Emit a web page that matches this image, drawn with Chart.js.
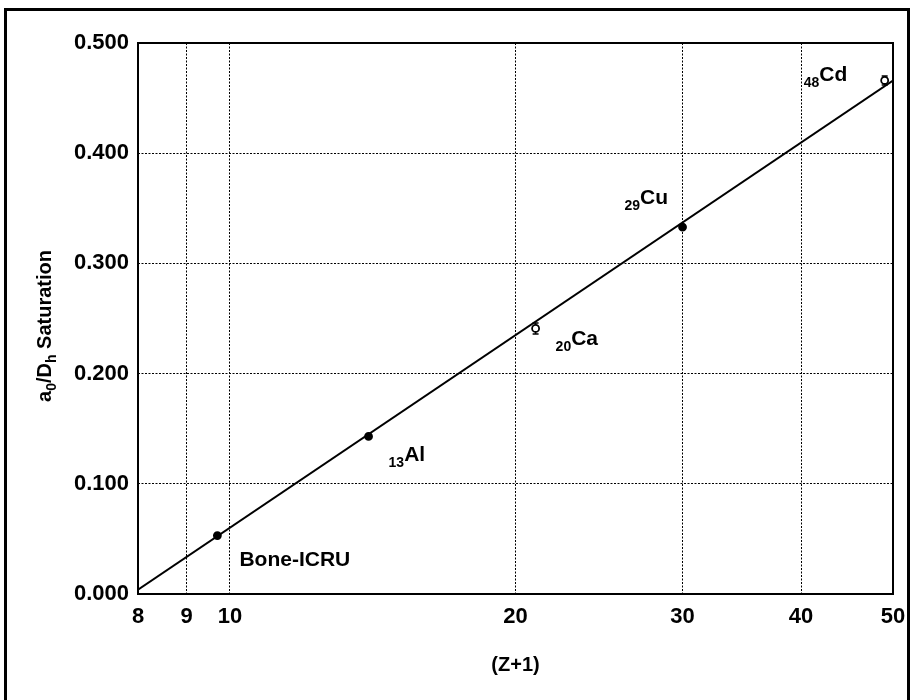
<!DOCTYPE html>
<html>
<head>
<meta charset="utf-8">
<script src="https://cdn.jsdelivr.net/npm/chart.js@4.4.0/dist/chart.umd.min.js"></script>
<style>
  html, body { margin: 0; padding: 0; background: #fff; }
  canvas { display: block; }
</style>
</head>
<body>
<canvas id="satChart" width="912" height="700"></canvas>
<script>
// measured points: (Z+1) vs a0/Dh at saturation
const zPlus1 = [9.7, 14, 21, 30, 49];
const saturation = [0.053, 0.143, 0.241, 0.333, 0.466];
const satError = [0, 0, 0.005, 0, 0.004];
const elemNumber = ["", "13", "20", "29", "48"];
const elemName = ["Bone-ICRU", "Al", "Ca", "Cu", "Cd"];

// fitted line end points
const fitX = [8, 50];
const fitY = [0.004, 0.466];

const xTicks = [8, 9, 10, 20, 30, 40, 50];

const FONT = "'Liberation Sans', Arial, sans-serif";
// where each element label sits relative to its point: [dx, baseline dy]
const labelOffsets = [[22, 30], [20, 25], [20, 17], [-58, -23], [-81, 1]];

const decorations = {
  id: "decorations",
  beforeDraw(chart) {
    const ctx = chart.ctx;
    ctx.save();
    ctx.fillStyle = "#fff";
    ctx.fillRect(0, 0, chart.width, chart.height);
    ctx.strokeStyle = "#000";
    ctx.lineWidth = 3;
    ctx.strokeRect(5.5, 9.5, 903, 720);
    ctx.restore();
  },
  beforeDatasetsDraw(chart) {
    const { ctx, scales: { x, y } } = chart;
    ctx.save();
    ctx.strokeStyle = "#000";
    ctx.lineWidth = 1.5;
    satError.forEach((e, i) => {
      if (!e) return;
      const px = x.getPixelForValue(zPlus1[i]);
      const top = y.getPixelForValue(saturation[i] + e);
      const bot = y.getPixelForValue(saturation[i] - e);
      ctx.beginPath();
      ctx.moveTo(px, top); ctx.lineTo(px, bot);
      ctx.moveTo(px - 3, top); ctx.lineTo(px + 3, top);
      ctx.moveTo(px - 3, bot); ctx.lineTo(px + 3, bot);
      ctx.stroke();
    });
    ctx.restore();
  },
  afterDatasetsDraw(chart) {
    const { ctx, chartArea: a, scales: { x, y } } = chart;
    ctx.save();
    // box round the plot
    ctx.strokeStyle = "#000";
    ctx.lineWidth = 2;
    ctx.strokeRect(a.left, a.top, a.right - a.left, a.bottom - a.top);

    // element labels with atomic number as a subscript in front
    ctx.fillStyle = "#000";
    ctx.textBaseline = "alphabetic";
    ctx.textAlign = "left";
    zPlus1.forEach((v, i) => {
      const px = x.getPixelForValue(v) + labelOffsets[i][0];
      const py = y.getPixelForValue(saturation[i]) + labelOffsets[i][1];
      let cx = px;
      if (elemNumber[i]) {
        ctx.font = "bold 14px " + FONT;
        ctx.fillText(elemNumber[i], cx, py + 6);
        cx += ctx.measureText(elemNumber[i]).width;
      }
      ctx.font = "bold 21px " + FONT;
      ctx.fillText(elemName[i], cx, py);
    });

    // x title
    ctx.font = "bold 20px " + FONT;
    ctx.textAlign = "center";
    ctx.textBaseline = "middle";
    ctx.fillText("(Z+1)", (a.left + a.right) / 2, 665);

    // y title, rotated, with subscripts
    const parts = [
      ["a", false], ["0", true], ["/D", false], ["h", true], [" Saturation", false]
    ];
    const big = "bold 20px " + FONT, small = "bold 14px " + FONT;
    let total = 0;
    parts.forEach(([t, sub]) => { ctx.font = sub ? small : big; total += ctx.measureText(t).width; });
    ctx.translate(44, 326);
    ctx.rotate(-Math.PI / 2);
    ctx.textAlign = "left";
    ctx.textBaseline = "alphabetic";
    let tx = -total / 2;
    parts.forEach(([t, sub]) => {
      ctx.font = sub ? small : big;
      ctx.fillText(t, tx, sub ? 12 : 7);
      tx += ctx.measureText(t).width;
    });
    ctx.restore();
  }
};

new Chart(document.getElementById("satChart"), {
  type: "scatter",
  data: {
    datasets: [
      {
        type: "line",
        data: fitX.map((v, i) => ({ x: v, y: fitY[i] })),
        borderColor: "#000",
        borderWidth: 2,
        pointRadius: 0,
        fill: false,
      },
      {
        data: zPlus1.map((v, i) => ({ x: v, y: saturation[i] })),
        pointRadius: 3.5,
        pointBorderWidth: 1.8,
        pointBorderColor: "#000",
        pointBackgroundColor: (ctx) => (ctx.dataIndex === 2 || ctx.dataIndex === 4 ? "#fff" : "#000"),
      },
    ],
  },
  options: {
    responsive: false,
    animation: false,
    layout: { padding: { left: 0, top: 43, right: 19, bottom: 0 } },
    plugins: { legend: { display: false }, tooltip: { enabled: false } },
    scales: {
      x: {
        type: "logarithmic",
        min: 8,
        max: 50,
        afterBuildTicks: (s) => { s.ticks = xTicks.map((v) => ({ value: v })); },
        afterFit: (s) => { s.height = 106; s.paddingLeft = 0; s.paddingRight = 0; },
        ticks: {
          autoSkip: false,
          maxRotation: 0,
          padding: 10,
          color: "#000",
          font: { family: FONT, size: 22, weight: "bold" },
          callback: (v) => String(v),
        },
        grid: { color: "#000", lineWidth: 1, drawTicks: false },
        border: { display: false, dash: [2, 1.5] },
      },
      y: {
        min: 0,
        max: 0.5,
        afterFit: (s) => { s.width = 138; s.paddingTop = 0; s.paddingBottom = 0; },
        ticks: {
          stepSize: 0.1,
          padding: 9,
          color: "#000",
          font: { family: FONT, size: 22, weight: "bold" },
          callback: (v) => v.toFixed(3),
        },
        grid: { color: "#000", lineWidth: 1, drawTicks: false },
        border: { display: false, dash: [2, 1.5] },
      },
    },
  },
  plugins: [decorations],
});
</script>
</body>
</html>
